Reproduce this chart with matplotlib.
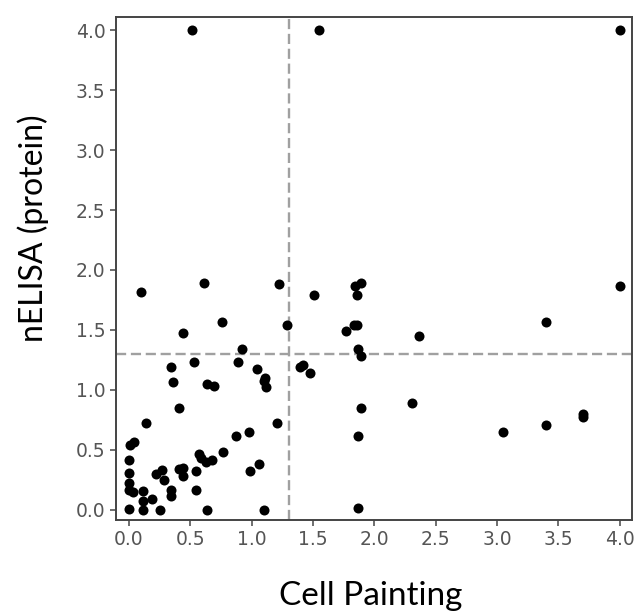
import numpy as np
import matplotlib
matplotlib.use("Agg")
import matplotlib.pyplot as plt

# -log10 p-values, Cell Painting vs nELISA
cell_painting = [0.51, 1.55, 4.0, 4.0, 2.36, 3.40, 2.31, 3.05, 3.40, 3.70,
                 3.70, 0.10, 0.61, 1.22, 1.51, 1.84, 1.89, 1.855, 0.755, 0.44,
                 1.285, 1.77, 1.83, 1.86, 1.87, 1.89, 0.92, 0.89, 0.53, 0.34,
                 0.36, 0.635, 0.695, 1.04, 1.11, 1.10, 1.115, 1.39, 1.42, 1.475,
                 0.41, 0.14, 1.205, 0.87, 0.98, 1.89, 1.87, 1.87, 0.01, 0.045,
                 0.77, 0.575, 0.59, 0.625, 0.68, 1.06, 0.99, 0.0, 0.0, 0.0,
                 0.0, 0.035, 0.0, 0.117, 0.117, 0.117, 0.19, 0.22, 0.266, 0.285,
                 0.253, 0.342, 0.342, 0.407, 0.442, 0.437, 0.543, 0.543, 0.633, 1.10]
nelisa = [4.0, 4.0, 4.0, 1.87, 1.45, 1.57, 0.89, 0.645, 0.705, 0.80,
          0.77, 1.82, 1.89, 1.88, 1.79, 1.87, 1.89, 1.79, 1.57, 1.47,
          1.545, 1.495, 1.54, 1.54, 1.34, 1.28, 1.34, 1.23, 1.23, 1.19,
          1.065, 1.045, 1.03, 1.17, 1.095, 1.07, 1.02, 1.19, 1.21, 1.14,
          0.845, 0.72, 0.72, 0.617, 0.645, 0.85, 0.617, 0.014, 0.54, 0.565,
          0.478, 0.464, 0.43, 0.395, 0.417, 0.385, 0.325, 0.417, 0.306, 0.225,
          0.165, 0.144, 0.005, 0.153, 0.07, 0.0, 0.092, 0.297, 0.333, 0.25,
          0.0, 0.161, 0.111, 0.339, 0.347, 0.278, 0.325, 0.167, 0.0, 0.0]

threshold = -np.log10(0.05)
ticks = [0.0, 0.5, 1.0, 1.5, 2.0, 2.5, 3.0, 3.5, 4.0]

fig = plt.figure(figsize=(6.34, 6.13), dpi=100)
ax = fig.add_axes([0.183, 0.152, 0.814, 0.820])

ax.scatter(cell_painting, nelisa, s=52, color="black", zorder=3, linewidths=0)
ax.axvline(threshold, color="#a0a0a0", lw=1.7, dashes=(4.3, 2.0), zorder=2)
ax.axhline(threshold, color="#a0a0a0", lw=1.7, dashes=(4.3, 2.0), zorder=2)

ax.set_xlim(-0.105, 4.1)
ax.set_ylim(-0.085, 4.11)
ax.set_xticks(ticks)
ax.set_yticks(ticks)
ax.set_xticklabels([f"{t:.1f}" for t in ticks])
ax.set_yticklabels([f"{t:.1f}" for t in ticks])
ax.tick_params(labelsize=13.5, labelcolor="#555555", color="#555555",
               length=4, width=1.2)
for sp in ax.spines.values():
    sp.set_color("#444444")
    sp.set_linewidth(1.4)

fig.text(0.585, 0.013, "Cell Painting", family="Lato", fontsize=24,
         ha="center", va="baseline")
fig.text(0.053, 0.628, "nELISA (protein)", family="Lato", fontsize=23,
         rotation=90, ha="center", va="center")

fig.savefig("out.png", dpi=100)
